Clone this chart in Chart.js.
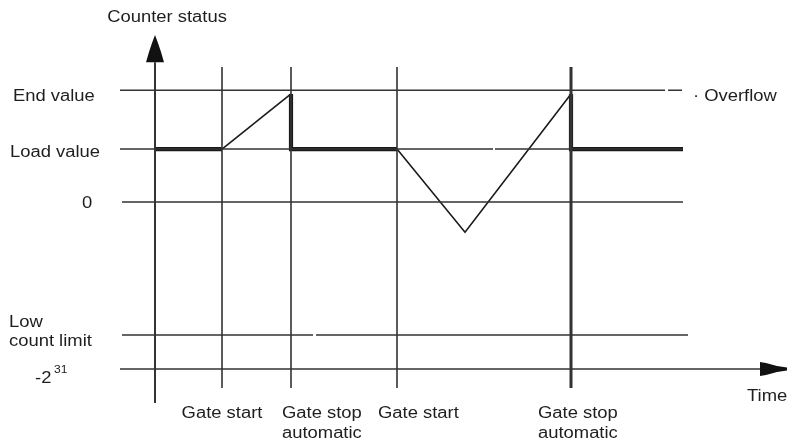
<!DOCTYPE html>
<html>
<head>
<meta charset="utf-8">
<script src="https://cdn.jsdelivr.net/npm/chart.js@4/dist/chart.umd.min.js"></script>
<style>
html,body{margin:0;padding:0;background:#fff;}
#wrap{width:790px;height:442px;position:relative;}
</style>
</head>
<body>
<div id="wrap"><canvas id="c" width="790" height="442"></canvas></div>
<script>
// ---- data (time units along x, counter units along y; Load value = 100) ----
const levelLabels = ['End value', 'Load value', '0', 'Low count limit', '-2^31'];
const levelValues = [211, 100, 0, -251, -315];
const levelStart = [-35, -35, -33, -33, -35];
const levelEnd = [527, 528, 528, 533, 605];
const levelGaps = [[510, 513], [338, 340], null, [158, 161], null];

const gateTimes = [67, 136, 242, 416];
const gateLabels = [['Gate start'], ['Gate stop', 'automatic'], ['Gate start'], ['Gate stop', 'automatic']];
const gateRange = [255, -351];

const signalTimes = [0, 67, 136, 136, 242, 310, 416, 416, 528];
const signalValues = [100, 100, 204, 100, 100, -57, 204, 100, 100];
const signalSegmentKind = ['hold', 'count', 'jump', 'hold', 'count', 'count', 'jump', 'hold'];

const axisRange = [-379, 264];
const timeAxisEnd = 632;
const yAxisTip = 315;

// ---- build datasets ----
const LINE = '#333';
const levelData = [];
levelValues.forEach((v, i) => {
  levelData.push({x: levelStart[i], y: v});
  if (levelGaps[i]) {
    levelData.push({x: levelGaps[i][0], y: v});
    levelData.push({x: levelGaps[i][0], y: null});
    levelData.push({x: levelGaps[i][1], y: v});
  }
  levelData.push({x: levelEnd[i], y: v});
  levelData.push({x: levelEnd[i], y: null});
});

const gateData = [];
gateTimes.forEach(t => {
  gateData.push({x: t, y: gateRange[0]});
  gateData.push({x: t, y: gateRange[1]});
  gateData.push({x: t, y: null});
});

const signalData = signalTimes.map((t, i) => ({x: t, y: signalValues[i]}));

const common = {showLine: true, spanGaps: false, pointRadius: 0, pointHoverRadius: 0, borderColor: LINE, clip: false, fill: false, borderCapStyle: 'butt', borderJoinStyle: 'miter'};

const textPlugin = {
  id: 'texts',
  afterDraw(chart) {
    const {ctx} = chart;
    const xs = chart.scales.x, ys = chart.scales.y;
    const X = v => xs.getPixelForValue(v), Y = v => ys.getPixelForValue(v);
    ctx.save();
    // arrows
    ctx.fillStyle = '#111';
    const ax = X(0), tipY = Y(yAxisTip), baseY = Y(axisRange[1]);
    ctx.beginPath();
    ctx.moveTo(ax, tipY);
    ctx.lineTo(ax + 3, tipY + 8);
    ctx.lineTo(ax + 6, tipY + 17);
    ctx.lineTo(ax + 9, baseY);
    ctx.lineTo(ax - 9, baseY);
    ctx.lineTo(ax - 6, tipY + 17);
    ctx.lineTo(ax - 3, tipY + 8);
    ctx.closePath();
    ctx.fill();
    const tb = X(levelEnd[4]), tt = X(timeAxisEnd), ty = Y(levelValues[4]);
    ctx.beginPath();
    ctx.moveTo(tb, ty - 7);
    ctx.lineTo(tb + 6, ty - 6);
    ctx.lineTo(tb + 17, ty - 3);
    ctx.lineTo(tt, ty - 1.5);
    ctx.lineTo(tt, ty + 1.5);
    ctx.lineTo(tb + 17, ty + 3);
    ctx.lineTo(tb + 6, ty + 6);
    ctx.lineTo(tb, ty + 7);
    ctx.closePath();
    ctx.fill();

    // texts
    ctx.fillStyle = '#1e1e1e';
    const F = '"Liberation Sans", Arial, sans-serif';
    function txt(s, px, py, align, size) {
      ctx.save();
      ctx.font = (size || 16) + 'px ' + F;
      ctx.textBaseline = 'alphabetic';
      ctx.textAlign = align || 'left';
      ctx.translate(px, py);
      ctx.scale(1.15, 1);
      ctx.fillText(s, 0, 0);
      ctx.restore();
    }
    txt('Counter status', ax + 12, 22, 'center');
    txt(levelLabels[0], 13, Y(levelValues[0]) + 11, 'left');
    txt(levelLabels[1], 10, Y(levelValues[1]) + 8, 'left');
    txt(levelLabels[2], 82, Y(levelValues[2]) + 6, 'left');
    const low = levelLabels[3].split(' ');
    txt(low[0], 9, Y(levelValues[3]) - 8, 'left');
    txt(low.slice(1).join(' '), 9, Y(levelValues[3]) + 11, 'left');
    const pw = levelLabels[4].split('^');
    txt(pw[0], 35, Y(levelValues[4]) + 14, 'left');
    txt(pw[1], 54, Y(levelValues[4]) + 4, 'left', 10.5);

    const offs = [0, -9, -19, -33];
    gateTimes.forEach((t, i) => {
      const lines = gateLabels[i];
      const align = i === 0 ? 'center' : 'left';
      lines.forEach((s, j) => txt(s, X(t) + offs[i], 418 + j * 20, align));
    });
    txt('\u00B7 Overflow', 693, Y(levelValues[0]) + 11, 'left');
    txt('Time', 747, ty + 32, 'left');
    ctx.restore();
  }
};

new Chart(document.getElementById('c'), {
  type: 'scatter',
  data: {
    datasets: [
      Object.assign({}, common, {label: 'levels', data: levelData, borderWidth: 1.6}),
      Object.assign({}, common, {label: 'gates', data: gateData,
        segment: {borderWidth: c => (Math.floor(c.p0DataIndex / 3) === 3 ? 3 : 1.6)}}),
      Object.assign({}, common, {label: 'yaxis', data: [{x: 0, y: axisRange[0]}, {x: 0, y: axisRange[1]}], borderWidth: 2}),
      Object.assign({}, common, {label: 'signal', data: signalData, borderColor: '#1a1a1a',
        segment: {borderWidth: c => (signalSegmentKind[c.p0DataIndex] === 'count' ? 1.6 : 4.2)}})
    ]
  },
  options: {
    responsive: false,
    animation: false,
    events: [],
    layout: {padding: {left: 120, right: 3, top: 33, bottom: 37}},
    plugins: {legend: {display: false}, tooltip: {enabled: false}},
    scales: {
      x: {type: 'linear', min: -35, max: 632, display: false},
      y: {type: 'linear', min: -383, max: 319, display: false}
    }
  },
  plugins: [textPlugin]
});
</script>
</body>
</html>
